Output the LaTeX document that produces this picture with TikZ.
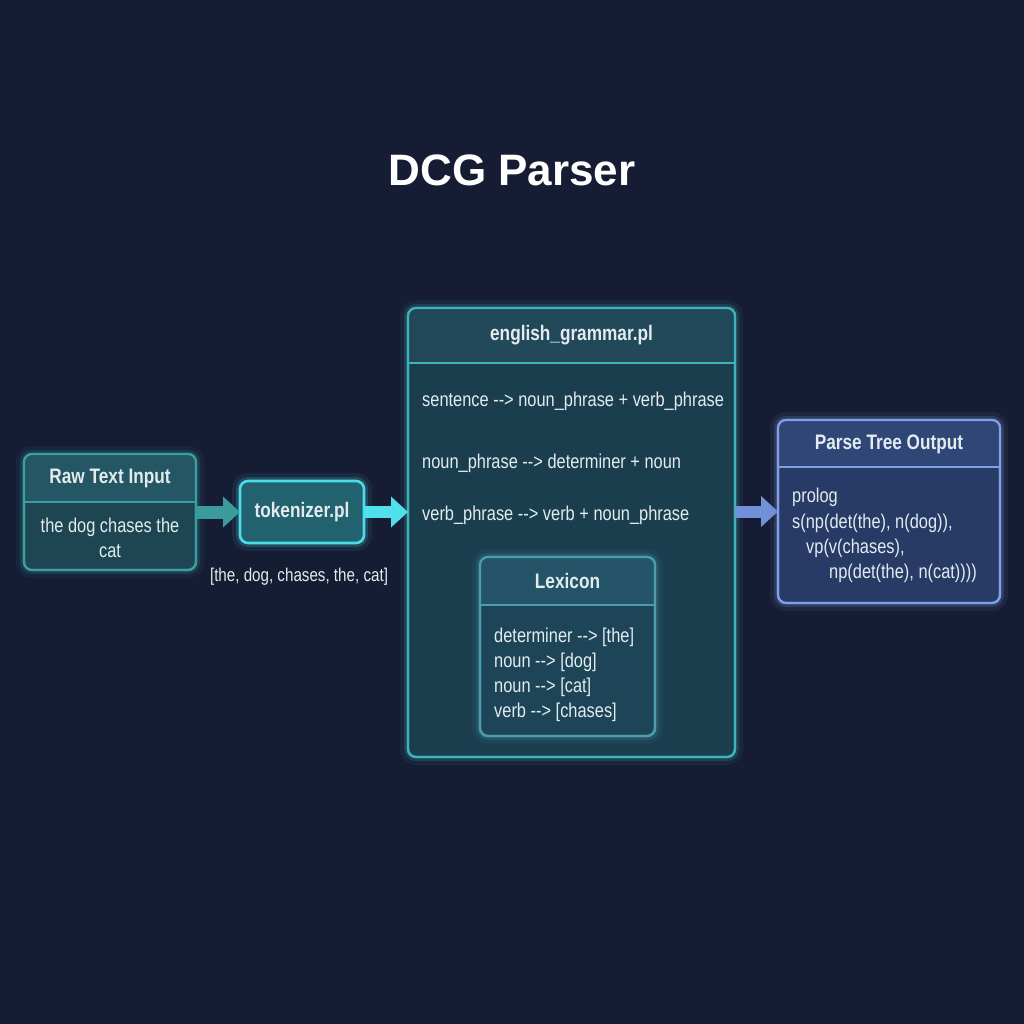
\documentclass[tikz,border=0pt]{standalone}
\usepackage{fontspec}
\setmainfont[FakeStretch=0.82]{Liberation Sans}
\newfontfamily\titlefont{Liberation Sans}
\usetikzlibrary{arrows.meta}
\definecolor{bg}{HTML}{161C33}
\definecolor{txt}{HTML}{E2ECEF}
\definecolor{rawB}{HTML}{3A9FA3}
\definecolor{rawF}{HTML}{1D4652}
\definecolor{rawH}{HTML}{245664}
\definecolor{tokB}{HTML}{4CDCE6}
\definecolor{tokF}{HTML}{22616E}
\definecolor{gramB}{HTML}{3FB3BC}
\definecolor{gramF}{HTML}{1B3E4F}
\definecolor{gramH}{HTML}{22495A}
\definecolor{lexB}{HTML}{4C9DB0}
\definecolor{lexF}{HTML}{1D4557}
\definecolor{lexH}{HTML}{255468}
\definecolor{parB}{HTML}{7F9FE6}
\definecolor{parF}{HTML}{283A66}
\definecolor{parH}{HTML}{304676}
\definecolor{arA}{HTML}{3A9A9C}
\definecolor{arB}{HTML}{4FE0EC}
\definecolor{arC}{HTML}{7090D8}
\tikzset{
  panel/.style={rectangle, rounded corners=8pt, outer sep=0pt, inner sep=0pt, line width=2.2pt,
    preaction={draw=#1, line width=16pt, opacity=0.08},
    preaction={draw=#1, line width=8pt, opacity=0.18}, draw=#1},
  hdr/.style={text=txt, font=\bfseries\fontsize{21}{25}\selectfont},
  body/.style={text=txt, font=\fontsize{20}{25}\selectfont},
  ln/.style={body, anchor=base west, inner sep=0pt},
  flow/.style={line width=#1, -{Triangle[length=17pt,width=30pt]}},
}
\begin{document}
\begin{tikzpicture}[x=1pt,y=-1pt]
\fill[bg] (0,0) rectangle (1024,1024);
\useasboundingbox (0,0) rectangle (1024,1024);

\node[text=white, font=\titlefont\bfseries\fontsize{44}{50}\selectfont] (title) at (512,170) {DCG Parser};

% Raw Text Input
\node[panel=rawB, fill=rawF, minimum width=172pt, minimum height=116pt] (raw) at (110,512) {};
\begin{scope}\clip[rounded corners=8pt] (24,454) rectangle (196,570);
\fill[rawH] (24,454) rectangle (196,502);\end{scope}
\draw[rawB, line width=2.2pt] (24,502) -- (196,502);
\draw[rawB, line width=2.2pt, rounded corners=8pt] (24,454) rectangle (196,570);
\node[hdr] (rawt) at (110,478) {Raw Text Input};
\node[body, align=center] (rawb) at (110,538) {the dog chases the\\cat};

% tokenizer
\node[panel=tokB, fill=tokF, minimum width=124pt, minimum height=62pt, line width=2.6pt] (tok) at (302,512) {};
\node[hdr] (tokt) at (302,512) {tokenizer.pl};
\node[body, font=\fontsize{18.5}{24}\selectfont] (toklabel) at (299,577) {[the, dog, chases, the, cat]};

% grammar
\node[panel=gramB, fill=gramF, minimum width=327pt, minimum height=449pt] (gram) at (571.5,532.5) {};
\begin{scope}\clip[rounded corners=8pt] (408,308) rectangle (735,757);
\fill[gramH] (408,308) rectangle (735,363);\end{scope}
\draw[gramB, line width=2.2pt] (408,363) -- (735,363);
\draw[gramB, line width=2.2pt, rounded corners=8pt] (408,308) rectangle (735,757);
\node[hdr] (gramt) at (571.5,335) {english\_grammar.pl};
\node[ln] (g1) at (422,406) {sentence -{}-> noun\_phrase + verb\_phrase};
\node[ln] (g2) at (422,468) {noun\_phrase -{}-> determiner + noun};
\node[ln] (g3) at (422,520) {verb\_phrase -{}-> verb + noun\_phrase};

% lexicon
\node[panel=lexB, fill=lexF, minimum width=175pt, minimum height=179pt] (lex) at (567.5,646.5) {};
\begin{scope}\clip[rounded corners=8pt] (480,557) rectangle (655,736);
\fill[lexH] (480,557) rectangle (655,605);\end{scope}
\draw[lexB, line width=2.2pt] (480,605) -- (655,605);
\draw[lexB, line width=2.2pt, rounded corners=8pt] (480,557) rectangle (655,736);
\node[hdr] (lext) at (567.5,581) {Lexicon};
\node[ln] (l1) at (494,642) {determiner -{}-> [the]};
\node[ln] (l2) at (494,667) {noun -{}-> [dog]};
\node[ln] (l3) at (494,692) {noun -{}-> [cat]};
\node[ln] (l4) at (494,717) {verb -{}-> [chases]};

% parse tree output
\node[panel=parB, fill=parF, minimum width=222pt, minimum height=183pt] (par) at (889,511.5) {};
\begin{scope}\clip[rounded corners=8pt] (778,420) rectangle (1000,603);
\fill[parH] (778,420) rectangle (1000,467);\end{scope}
\draw[parB, line width=2.2pt] (778,467) -- (1000,467);
\draw[parB, line width=2.2pt, rounded corners=8pt] (778,420) rectangle (1000,603);
\node[hdr] (part) at (889,444) {Parse Tree Output};
\node[ln] (p1) at (792,502) {prolog};
\node[ln] (p2) at (792,528) {s(np(det(the), n(dog)),};
\node[ln] (p3) at (806,553) {vp(v(chases),};
\node[ln] (p4) at (829,578) {np(det(the), n(cat))))};

% connectors
\draw[flow=13pt, arA] (raw.east) -- (tok.west);
\draw[flow=12pt, arB] (tok.east) -- (tok.east -| gram.west);
\draw[flow=12pt, arC] (gram.east |- par.west) -- (par.west);
\end{tikzpicture}
\end{document}
